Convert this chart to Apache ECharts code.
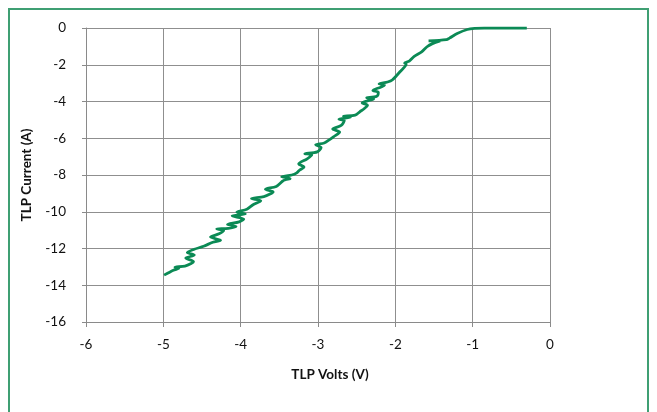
<!DOCTYPE html>
<html>
<head>
<meta charset="utf-8">
<script src="https://cdn.jsdelivr.net/npm/echarts@6/dist/echarts.min.js"></script>
<style>
html,body{margin:0;padding:0;background:#fff;}
#c{width:657px;height:412px;}
</style>
</head>
<body>
<div id="c"></div>
<script>
// Tick settings
var xTicks = [-6, -5, -4, -3, -2, -1, 0];
var yTicks = [-16, -14, -12, -10, -8, -6, -4, -2, 0];

// TLP curve: volts (V) and current (A)
var volts = [
  -4.99, -4.87, -4.80, -4.85, -4.72, -4.64, -4.61, -4.71, -4.60, -4.69,
  -4.60, -4.48, -4.36, -4.26, -4.39, -4.28, -4.22, -4.31, -4.16, -4.06,
  -4.17, -4.02, -3.96, -4.11, -3.94, -4.05, -3.92, -3.84, -3.74, -3.86,
  -3.70, -3.62, -3.58, -3.68, -3.54, -3.46, -3.42, -3.36, -3.47, -3.34,
  -3.28, -3.24, -3.18, -3.25, -3.14, -3.08, -3.17, -3.01, -2.96, -3.03,
  -2.92, -2.86, -2.80, -2.72, -2.81, -2.70, -2.66, -2.73, -2.58, -2.67,
  -2.52, -2.46, -2.40, -2.36, -2.43, -2.34, -2.28, -2.37, -2.24, -2.22,
  -2.29, -2.19, -2.14, -2.21, -2.10, -2.04, -1.94, -1.86, -1.88, -1.82,
  -1.76, -1.66, -1.59, -1.52, -1.42, -1.57, -1.34, -1.30, -1.20, -1.07,
  -0.97, -0.85, -0.30
];
var current = [
  -13.45, -13.18, -13.08, -13.02, -12.96, -12.82, -12.72, -12.52, -12.36, -12.22,
  -12.04, -11.88, -11.66, -11.55, -11.38, -11.20, -11.02, -10.94, -10.90, -10.80,
  -10.70, -10.55, -10.40, -10.22, -10.12, -10.02, -9.86, -9.62, -9.40, -9.28,
  -9.18, -9.04, -8.92, -8.78, -8.62, -8.34, -8.26, -8.20, -8.10, -8.00,
  -7.90, -7.74, -7.56, -7.40, -7.12, -6.90, -6.84, -6.74, -6.50, -6.36,
  -6.26, -6.10, -5.92, -5.66, -5.50, -5.30, -5.04, -4.96, -4.86, -4.80,
  -4.74, -4.56, -4.38, -4.20, -4.08, -3.94, -3.86, -3.80, -3.72, -3.50,
  -3.40, -3.22, -3.12, -3.04, -2.94, -2.83, -2.38, -1.96, -1.90, -1.80,
  -1.56, -1.30, -1.02, -0.85, -0.70, -0.70, -0.63, -0.55, -0.30, -0.08,
  -0.02, 0.00, 0.00
];

var pts = volts.map(function (v, i) { return [v, current[i]]; });

var chart = echarts.init(document.getElementById('c'), null, {renderer: 'canvas'});
var font = 'Lato, "Open Sans", sans-serif';
chart.setOption({
  animation: false,
  backgroundColor: '#ffffff',
  textStyle: {fontFamily: font},
  graphic: [{
    type: 'rect',
    shape: {x: 9, y: 9, width: 639, height: 430},
    style: {fill: 'none', stroke: '#3f9f73', lineWidth: 2},
    silent: true
  }],
  grid: {left: 86, right: 107, top: 28, bottom: 90, containLabel: false},
  xAxis: {
    type: 'value',
    min: xTicks[0], max: xTicks[xTicks.length - 1], interval: 1,
    name: 'TLP Volts (V)',
    nameLocation: 'middle', nameGap: 46,
    nameTextStyle: {fontFamily: font, fontWeight: 'bold', fontSize: 13.5, color: '#111', padding: [0, 0, 0, 24]},
    axisLine: {show: true, onZero: false, lineStyle: {color: '#8a8a8a', width: 1}},
    axisTick: {show: true, length: 5, lineStyle: {color: '#8a8a8a'}},
    axisLabel: {fontFamily: font, fontSize: 13.5, color: '#111', margin: 16},
    splitLine: {show: true, lineStyle: {color: '#8f8f8f', width: 1}}
  },
  yAxis: {
    type: 'value',
    min: yTicks[0], max: yTicks[yTicks.length - 1], interval: 2,
    name: 'TLP Current (A)',
    nameLocation: 'middle', nameGap: 52, nameRotate: 90,
    nameTextStyle: {fontFamily: font, fontWeight: 'bold', fontSize: 13.5, color: '#111'},
    axisLine: {show: true, onZero: false, lineStyle: {color: '#8a8a8a', width: 1}},
    axisTick: {show: true, length: 4, lineStyle: {color: '#8a8a8a'}},
    axisLabel: {fontFamily: font, fontSize: 13.5, color: '#111', margin: 20, padding: [0, 0, 8, 0]},
    splitLine: {show: true, lineStyle: {color: '#8f8f8f', width: 1}}
  },
  series: [{
    type: 'line',
    data: pts,
    showSymbol: false,
    symbol: 'none',
    smooth: 0.3,
    lineStyle: {color: '#0b8a55', width: 2.8},
    itemStyle: {color: '#0b8a55'}
  }]
});
</script>
</body>
</html>
